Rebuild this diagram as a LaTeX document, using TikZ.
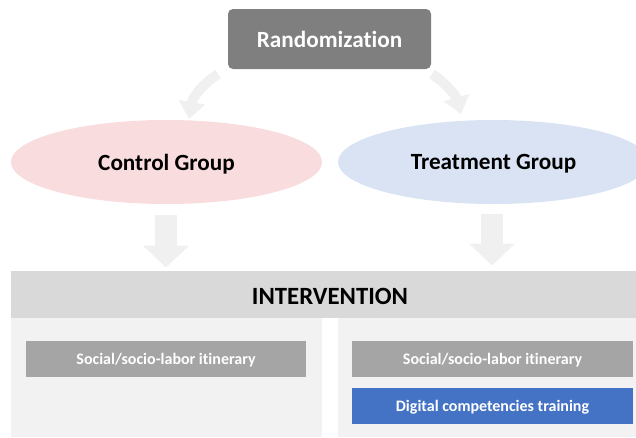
\documentclass[tikz,border=0pt]{standalone}
\usepackage{fontspec}
\setmainfont{Carlito}[Ligatures=NoCommon]
\usetikzlibrary{shapes.geometric,arrows.meta}
\definecolor{randgray}{HTML}{7F7F7F}
\definecolor{arrowgray}{HTML}{F0F0F0}
\definecolor{ctrlpink}{HTML}{F9DCDD}
\definecolor{treatblue}{HTML}{DAE3F3}
\definecolor{bandgray}{HTML}{D9D9D9}
\definecolor{panelgray}{HTML}{F2F2F2}
\definecolor{boxgray}{HTML}{A5A5A5}
\definecolor{boxblue}{HTML}{4472C4}
\begin{document}
\begin{tikzpicture}[x=1pt,y=-1pt,
  bigtext/.style={font=\fontsize{23.2}{27}\selectfont\bfseries},
  randbox/.style={fill=randgray, rounded corners=5pt, minimum width=203pt, minimum height=60pt, inner sep=0pt, text=white, bigtext},
  groupell/.style={ellipse, minimum width=311pt, minimum height=84pt, inner sep=0pt, bigtext, text depth=0pt},
  smallbox/.style={minimum width=280pt, minimum height=36pt, inner sep=0pt, text=white, text depth=0pt, font=\fontsize{16}{19}\selectfont\bfseries},
  curvearrow/.style={draw=arrowgray, line width=10pt, -{Triangle[width=26pt,length=17pt]}},
  blockarrow/.style={draw=arrowgray, line width=22pt, -{Triangle[width=45pt,length=22pt]}},
  panel/.style={fill=panelgray, draw=none}
]
\useasboundingbox (0,0) rectangle (636,437);
\clip (0,0) rectangle (636,437);

% curved arrows
\coordinate (la1) at (218,74);
\coordinate (la2) at (189,119);
\coordinate (ra1) at (432,74);
\coordinate (ra2) at (461,114);
\draw[curvearrow] (la1) .. controls (203,84) and (193,96) .. (la2);
\draw[curvearrow] (ra1) .. controls (447,84) and (456,96) .. (ra2);

% randomization
\node[randbox] (rand) at (329.5,39) {Randomization};

% groups
\node[groupell, fill=ctrlpink] (ctrl) at (166.5,162) {Control Group};
\node[groupell, fill=treatblue] (treat) at (493.5,162) {Treatment Group};

% block arrows
\coordinate (da1) at (166,215);
\coordinate (da2) at (166,267.5);
\coordinate (db1) at (492,214);
\coordinate (db2) at (492,265.5);
\draw[blockarrow] (da1) -- (da2);
\draw[blockarrow] (db1) -- (db2);

% intervention band and panels
\node[fill=bandgray, minimum width=625pt, minimum height=47pt, inner sep=0pt] (band) at (323.5,294.5) {};
\node at (330,296) [font=\fontsize{24.8}{28}\selectfont\bfseries, text depth=0pt] (bandtext) {INTERVENTION};
\node[panel, minimum width=311pt, minimum height=119pt, inner sep=0pt] (lpanel) at (166.5,377.5) {};
\node[panel, minimum width=298pt, minimum height=119pt, inner sep=0pt] (rpanel) at (487,377.5) {};

% boxes
\node[smallbox, fill=boxgray] (lsoc) at (166,359) {Social/socio-labor itinerary};
\node[smallbox, fill=boxgray, minimum width=281pt] (rsoc) at (492.5,359) {Social/socio-labor itinerary};
\node[smallbox, fill=boxblue, minimum width=281pt] (dig) at (492.5,406) {Digital competencies training};
\end{tikzpicture}
\end{document}
